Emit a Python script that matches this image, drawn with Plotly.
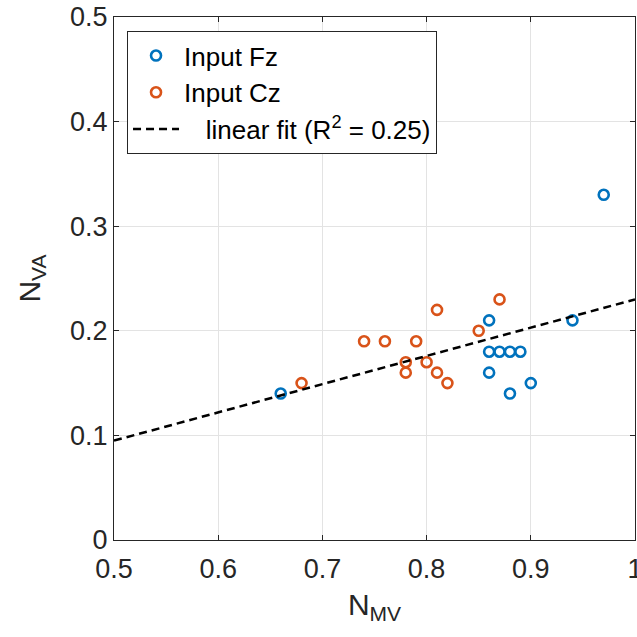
import plotly.graph_objects as go

# Data
fz_x = [0.66, 0.86, 0.86, 0.87, 0.88, 0.89, 0.86, 0.88, 0.90, 0.94, 0.97]
fz_y = [0.14, 0.21, 0.18, 0.18, 0.18, 0.18, 0.16, 0.14, 0.15, 0.21, 0.33]
cz_x = [0.68, 0.74, 0.76, 0.79, 0.78, 0.78, 0.80, 0.81, 0.82, 0.81, 0.85, 0.87]
cz_y = [0.15, 0.19, 0.19, 0.19, 0.17, 0.16, 0.17, 0.16, 0.15, 0.22, 0.20, 0.23]
fit_slope = 0.27
fit_intercept = -0.04
fit_x = [0.5, 1.0]
fit_y = [fit_slope * v + fit_intercept for v in fit_x]
x_ticks = [0.5, 0.6, 0.7, 0.8, 0.9, 1.0]
x_labels = ["0.5", "0.6", "0.7", "0.8", "0.9", "1"]
y_ticks = [0, 0.1, 0.2, 0.3, 0.4, 0.5]
y_labels = ["0", "0.1", "0.2", "0.3", "0.4", "0.5"]

FONT = "Liberation Sans, Arial, sans-serif"
BLUE = "#0072BD"
ORANGE = "#D95319"

fig = go.Figure()
fig.add_trace(go.Scatter(x=fz_x, y=fz_y, mode="markers", name="Input Fz",
                         marker=dict(symbol="circle-open", size=10, color=BLUE,
                                     line=dict(width=2.6, color=BLUE))))
fig.add_trace(go.Scatter(x=cz_x, y=cz_y, mode="markers", name="Input Cz",
                         marker=dict(symbol="circle-open", size=10, color=ORANGE,
                                     line=dict(width=2.6, color=ORANGE))))
fig.add_trace(go.Scatter(x=fit_x, y=fit_y, mode="lines",
                         name="   linear fit (R<sup>2</sup> = 0.25)",
                         line=dict(color="black", width=2.5, dash="8px,5px")))

axis_common = dict(showgrid=True, gridcolor="#e3e3e3", gridwidth=1,
                   showline=True, linecolor="#262626", linewidth=1, mirror="ticks",
                   ticks="inside", ticklen=5, tickcolor="#262626", zeroline=False,
                   automargin=False, ticklabeloverflow="allow",
                   tickfont=dict(family=FONT, size=27, color="#262626"))

fig.update_layout(
    width=637, height=637,
    margin=dict(l=114, r=2, t=17, b=97),
    paper_bgcolor="white", plot_bgcolor="white",
    font=dict(family=FONT, color="#262626"),
    xaxis=dict(range=[0.5, 1.0], tickvals=x_ticks, ticktext=x_labels,
               ticklabelstandoff=5,
               title=dict(text="N<sub>MV</sub>", font=dict(family=FONT, size=30, color="#262626"), standoff=10),
               **axis_common),
    yaxis=dict(range=[0, 0.5], tickvals=y_ticks, ticktext=y_labels,
               title=dict(text="N<sub>VA</sub>", font=dict(family=FONT, size=30, color="#262626"), standoff=20),
               **axis_common),
    legend=dict(x=0.025, y=0.973, xanchor="left", yanchor="top",
                bgcolor="white", bordercolor="#262626", borderwidth=1,
                font=dict(family=FONT, size=26, color="black"),
                tracegroupgap=0, itemwidth=46),
    showlegend=True,
)

fig.write_html("out.html", config={"displayModeBar": False},
               post_script="document.body.style.margin='0';document.body.style.overflow='hidden';")
